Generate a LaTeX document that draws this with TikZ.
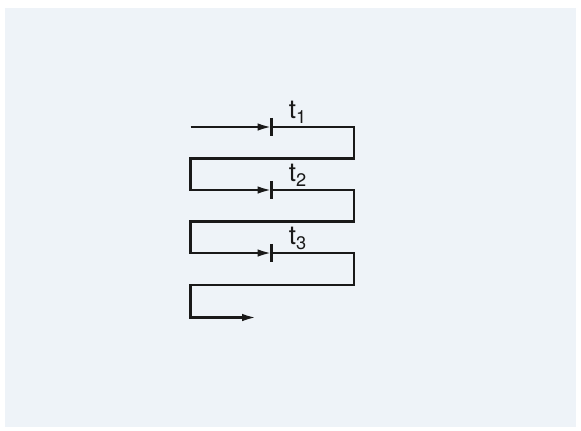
\documentclass[tikz,border=0pt]{standalone}
\usepackage{fontspec}
\setmainfont{TeX Gyre Heros}
\usepackage{tikz}
\usetikzlibrary{positioning,arrows.meta}
\definecolor{paper}{RGB}{238,243,248}
\definecolor{ink}{RGB}{25,25,25}

\begin{document}
\begin{tikzpicture} [ x=0.5pt,y=-0.5pt,>={Latex[length=7pt,width=3.8pt]},
    line/.style={draw=ink, line width=1.15pt},
    flow/.style={line, ->},
    cut/.style={line},
    lbl/.style={inner sep=0pt, text=ink, font=\fontsize{13}{15}\selectfont}
    ]
    \useasboundingbox (0,0) rectangle (581,430);
    \fill[paper] (5,8) rectangle (576,427);

    % corners of the meander
    \coordinate (in)  at (190.5,127);
    \coordinate (r1)  at (354,158.5);
    \coordinate (l1)  at (190.5,158.5);
    \coordinate (r2)  at (354,221.5);
    \coordinate (l2)  at (190.5,221.5);
    \coordinate (r3)  at (354,285);
    \coordinate (l3)  at (190.5,285);
    \coordinate (out) at (256,317.5);

    \foreach \i/\y in {1/127,2/190,3/253} {
      \coordinate (m\i) at (271.5,\y);
      \draw [cut] ([yshift=4.6pt]m\i) -- ([yshift=-4.4pt]m\i);
      \node (t\i) [lbl, above right=1.6pt and 8.5pt of m\i] {t\textsubscript{\i}};
    }

     \draw   [flow]  (in) -- (m1);
     \draw   [flow]  (m1) -| (r1) -- (l1) |- (m2);
     \draw   [flow]  (m2) -| (r2) -- (l2) |- (m3);
     \draw   [flow]  (m3) -| (r3) -- (l3) |- (out);
  \end{tikzpicture}
\end{document}
